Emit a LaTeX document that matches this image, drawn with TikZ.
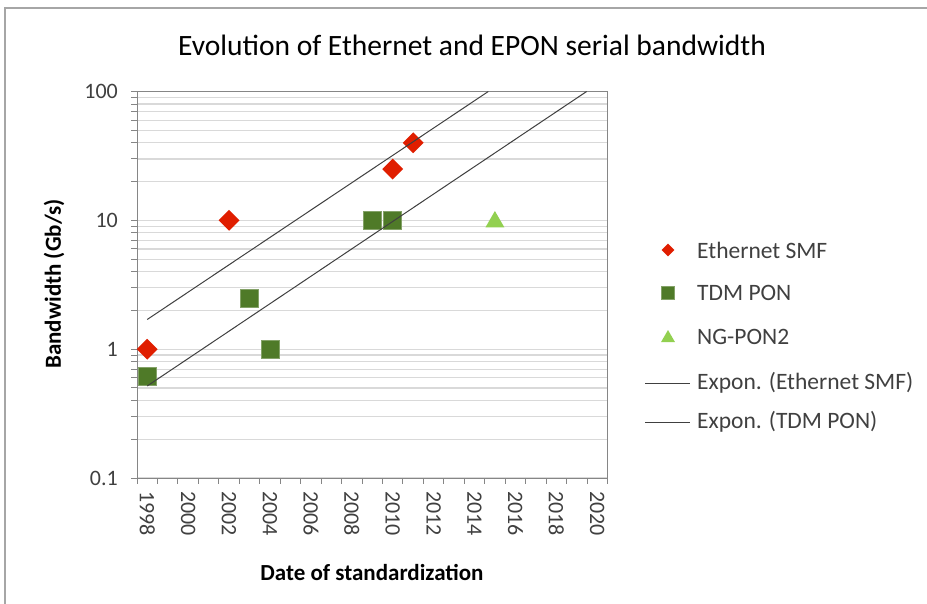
\documentclass[tikz,border=0pt]{standalone}
\usepackage{fontspec}
\setmainfont{Carlito}
\usetikzlibrary{shapes.geometric}
\definecolor{gridgray}{HTML}{D9D9D9}
\definecolor{axisgray}{HTML}{868686}
\definecolor{framegray}{HTML}{A6A6A6}
\definecolor{ethred}{HTML}{E01E00}
\definecolor{tdmgreen}{HTML}{4F7A28}
\definecolor{nggreen}{HTML}{92D050}
\definecolor{labelgray}{HTML}{404040}
\begin{document}
\begin{tikzpicture}[x=1pt,y=-1pt,
  gridline/.style={draw=gridgray,line width=1.2pt},
  axisline/.style={draw=axisgray,line width=1pt},
  trend/.style={draw=black!75,line width=1pt},
  ethmark/.style={diamond,fill=ethred,inner sep=0pt,minimum size=#1},
  tdmmark/.style={rectangle,fill=tdmgreen,draw=tdmgreen!70!white,line width=0.6pt,inner sep=0pt,minimum size=#1},
  ngmark/.style={regular polygon,regular polygon sides=3,fill=nggreen,inner sep=0pt,minimum size=#1},
  ticklab/.style={text=labelgray,font=\fontsize{22}{24}\selectfont,inner sep=0pt},
  leglab/.style={text=labelgray,font=\fontsize{23.5}{26}\selectfont,anchor=west,inner sep=0pt},
  axtitle/.style={font=\bfseries\fontsize{23}{26}\selectfont,inner sep=0pt},
]
\useasboundingbox[fill=white] (0,0) rectangle (927,604);
% outer chart frame (top and left only)
\draw[draw=framegray,line width=2pt] (927,8) -- (5,8) -- (5,604);
% title
\node[font=\fontsize{29.5}{32}\selectfont,inner sep=0pt] (title) at (472,45) {Evolution of Ethernet and EPON serial bandwidth};
% horizontal gridlines
\foreach \d in {-1,0,1}{
  \foreach \k in {1,...,9}{
    \pgfmathsetmacro\yy{349.2-128.83*(\d+log10(\k))}
    \draw[gridline] (137,\yy) -- (607.5,\yy);
    \draw[axisline] (131,\yy) -- (137,\yy);
  }
}
\draw[axisline] (131,91.5) -- (137,91.5);
% plot frame
\draw[axisline] (137,91.5) rectangle (607.5,478);
% x ticks
\foreach \i in {0,...,23}{
  \pgfmathsetmacro\xx{137+20.457*\i}
  \draw[axisline] (\xx,478) -- (\xx,484);
}
% y tick labels
\node[ticklab,anchor=east] (y100) at (118,91.5) {100};
\node[ticklab,anchor=east] (y10) at (118,220.3) {10};
\node[ticklab,anchor=east] (y1) at (118,349.2) {1};
\node[ticklab,anchor=east] (y01) at (118,478) {0.1};
% x tick labels
\foreach \i in {0,2,...,22}{
  \pgfmathsetmacro\xx{137+20.457*(\i+0.5)}
  \pgfmathtruncatemacro\yr{1998+\i}
  \node[ticklab,rotate=-90,anchor=west] (x\yr) at (\xx,491) {\yr};
}
% axis titles
\node[axtitle,rotate=90] (ytitle) at (54,284) {Bandwidth (Gb/s)};
\node[axtitle] (xtitle) at (372,572) {Date of standardization};
% data markers
\node[ethmark=21pt] (e1998) at (147.2,349.2) {};
\node[ethmark=21pt] (e2002) at (229.1,220.3) {};
\node[ethmark=21pt] (e2010) at (392.7,169.1) {};
\node[ethmark=21pt] (e2011) at (413.2,142.8) {};
\node[tdmmark=18pt] (t1998) at (147.2,375.8) {};
\node[tdmmark=18pt] (t2003) at (249.5,298.2) {};
\node[tdmmark=18pt] (t2004) at (270.0,349.2) {};
\node[tdmmark=18pt] (t2009) at (372.3,220.3) {};
\node[tdmmark=18pt] (t2010) at (392.7,220.3) {};
\node[ngmark=22pt] (n2015) at (494.9,222) {};
% trend lines
\coordinate (ea) at (147.2,319.5);
\coordinate (eb) at (488.3,91.5);
\coordinate (ta) at (147.2,386.0);
\coordinate (tb) at (586.6,91.5);
\draw[trend] (ea) -- (eb);
\draw[trend] (ta) -- (tb);
% legend
\node[ethmark=13pt] (le) at (668,250) {};
\node[leglab] (lle) at (697,250) {Ethernet SMF};
\node[tdmmark=13pt] (lt) at (668,293) {};
\node[leglab] (llt) at (697,293) {TDM PON};
\node[ngmark=16pt] (ln) at (668,338) {};
\node[leglab] (lln) at (697,337) {NG-PON2};
\coordinate (lea) at (645,383);
\coordinate (leb) at (690,383);
\draw[trend] (lea) -- (leb);
\node[leglab] (llx) at (697,383) {Expon. (Ethernet SMF)};
\coordinate (lta) at (645,422);
\coordinate (ltb) at (690,422);
\draw[trend] (lta) -- (ltb);
\node[leglab] (lly) at (697,422) {Expon. (TDM PON)};
\end{tikzpicture}
\end{document}
